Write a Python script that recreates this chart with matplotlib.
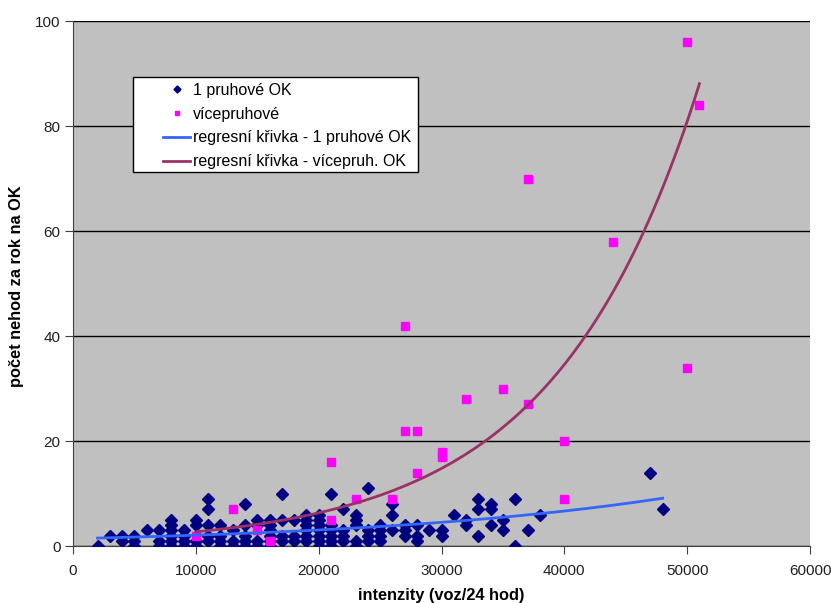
import numpy as np
import matplotlib
matplotlib.use('Agg')
import matplotlib.pyplot as plt
from matplotlib.patches import Rectangle

plt.rcParams['font.family'] = ['Liberation Sans', 'DejaVu Sans']

# 1 pruhové OK: intenzita (voz/24 hod) a počty nehod v každém sloupci
jedno_x = [2000, 3000, 4000, 5000, 6000, 7000, 8000, 9000, 10000, 11000,
           12000, 13000, 14000, 15000, 16000, 17000, 18000, 19000, 20000,
           21000, 22000, 23000, 24000, 25000, 26000, 27000, 28000, 29000,
           30000, 31000, 32000, 33000, 34000, 35000, 36000, 37000, 38000,
           47000, 48000]
jedno_y = [[0], [2], [2, 1], [2, 1, 0], [3], [3, 1, 0], [5, 4, 3, 2, 1, 0],
           [3, 2, 1, 0], [5, 4, 1, 0], [9, 7, 4, 2, 1], [4, 2, 1, 0],
           [3, 1, 0], [8, 4, 2, 1, 0], [5, 4, 1, 0], [5, 4, 3, 2, 1, 0],
           [10, 5, 2, 1], [5, 2, 1], [6, 5, 4, 3, 2, 1],
           [6, 5, 4, 3, 2, 1, 0], [10, 4, 3, 2, 1, 0], [7, 3, 2, 1],
           [6, 5, 4, 1, 0], [11, 3, 2, 1], [4, 3, 2, 1], [8, 6, 3],
           [4, 3, 2], [4, 2, 1], [3], [3, 2], [6], [5, 4], [9, 7, 2],
           [8, 7, 4], [5, 3], [9, 0], [3], [6], [14], [7]]

# vícepruhové
vice_x = [10000, 13000, 15000, 16000, 21000, 21000, 23000, 26000, 27000,
          27000, 28000, 28000, 30000, 30000, 32000, 35000, 37000, 37000,
          40000, 40000, 44000, 50000, 50000, 51000]
vice_y = [2, 7, 3, 1, 16, 5, 9, 9, 42, 22, 22, 14, 18, 17, 28, 30, 70, 27,
          20, 9, 58, 96, 34, 84]

# exponenciální regresní křivky y = a * exp(b * x)
jedno_a, jedno_b = 1.40, 3.9e-5
jedno_rozsah = (2000, 48000)
vice_a, vice_b = 1.154, 8.5e-5
vice_rozsah = (10000, 51000)

bx = [x for x, ys in zip(jedno_x, jedno_y) for _ in ys]
by = [y for ys in jedno_y for y in ys]

fig = plt.figure(figsize=(8.31, 6.03), dpi=100)
ax = fig.add_axes([0.0878, 0.0945, 0.887, 0.8705])
ax.set_facecolor('#C0C0C0')

ax.plot(bx, by, linestyle='none', marker='D', markersize=6,
        color='#000080', label='1 pruhové OK', zorder=3)
ax.plot(vice_x, vice_y, linestyle='none', marker='s', markersize=6,
        color='#FF00FF', label='vícepruhové', zorder=3)

xs = np.linspace(*jedno_rozsah, 200)
ax.plot(xs, jedno_a * np.exp(jedno_b * xs), color='#3366FF', lw=2,
        label='regresní křivka - 1 pruhové OK', zorder=4)
xs = np.linspace(*vice_rozsah, 200)
ax.plot(xs, vice_a * np.exp(vice_b * xs), color='#993366', lw=2,
        label='regresní křivka - vícepruh. OK', zorder=4)

ax.set_xlim(0, 60000)
ax.set_ylim(0, 100)
ax.set_xticks(range(0, 60001, 10000))
ax.set_yticks(range(0, 101, 20))
ax.yaxis.grid(True, color='black', lw=1)
ax.set_axisbelow(True)
for s in ['top', 'right']:
    ax.spines[s].set_visible(False)
for s in ['left', 'bottom']:
    ax.spines[s].set_color('#404040')
ax.tick_params(direction='out', length=6, color='#404040', labelsize=11,
               labelcolor='#202020')
ax.tick_params(axis='y', pad=3)
ax.tick_params(axis='x', pad=7)

ax.set_xlabel('intenzity (voz/24 hod)', fontsize=11.8, fontweight='bold')
ax.xaxis.set_label_coords(0.5, -0.08)
ax.set_ylabel('počet nehod za rok na OK', fontsize=11.8, fontweight='bold')
ax.yaxis.set_label_coords(-0.0665, 0.495)

# rámeček legendy s větším odsazením vlevo
ax.add_patch(Rectangle((0.0814, 0.712), 0.3866, 0.181, transform=ax.transAxes,
                       facecolor='white', edgecolor='black', lw=1, zorder=5))
leg = ax.legend(loc='upper left', bbox_to_anchor=(0.115, 0.893),
                borderaxespad=0, fontsize=11.5, frameon=False,
                handlelength=1.7, handletextpad=0.15, borderpad=0.35,
                labelspacing=0.55, markerscale=0.6)
leg.set_zorder(6)

fig.savefig('out.png', dpi=100)
